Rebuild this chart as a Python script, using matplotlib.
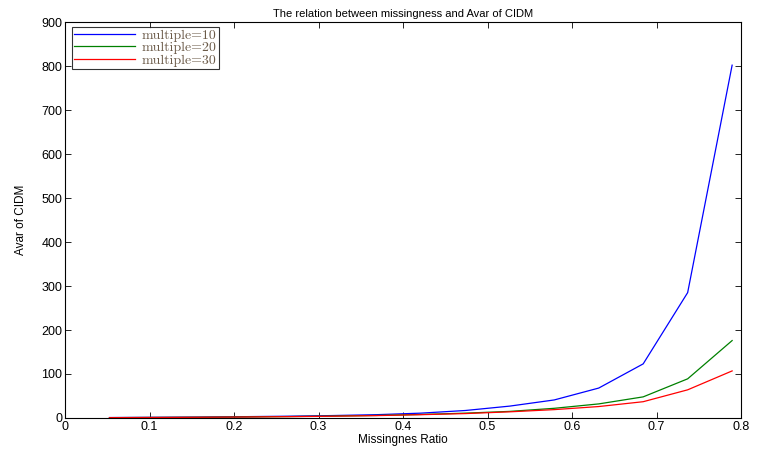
import matplotlib
matplotlib.use('Agg')
import matplotlib.pyplot as plt
import numpy as np

plt.rcParams['font.family'] = ['Liberation Sans', 'DejaVu Sans']

# missingness ratios (k/19, k = 1..15)
ratio = [1 / 19, 2 / 19, 3 / 19, 4 / 19, 5 / 19, 6 / 19, 7 / 19, 8 / 19,
         9 / 19, 10 / 19, 11 / 19, 12 / 19, 13 / 19, 14 / 19, 15 / 19]
avar_10 = [1.0, 1.5, 2.0, 3.0, 4.0, 5.5, 7.5, 11, 17, 27, 41, 68, 123, 285, 802]
avar_20 = [0.8, 1.2, 1.7, 2.4, 3.2, 4.3, 5.8, 8, 11, 15, 22, 32, 48, 89, 176]
avar_30 = [0.7, 1.1, 1.6, 2.2, 3.0, 4.0, 5.4, 7.5, 10, 14, 19, 26, 37, 64, 107]
labels = ['multiple=10', 'multiple=20', 'multiple=30']

fig = plt.figure(figsize=(7.57, 4.53), dpi=100)
ax = fig.add_axes([0.0859, 0.0773, 0.893, 0.874])

ax.plot(ratio, avar_10, color='#0000ff', lw=0.9, label=labels[0])
ax.plot(ratio, avar_20, color='#008000', lw=0.9, label=labels[1])
ax.plot(ratio, avar_30, color='#ff0000', lw=0.9, label=labels[2])

ax.set_xlim(0, 0.8)
ax.set_ylim(0, 900)
ax.set_xticks(np.arange(0, 0.81, 0.1))
ax.set_xticklabels(['0', '0.1', '0.2', '0.3', '0.4', '0.5', '0.6', '0.7', '0.8'])
ax.set_yticks(np.arange(0, 901, 100))
ax.tick_params(direction='in', top=True, right=True, length=4, width=0.6,
               labelsize=9, pad=2)
for s in ax.spines.values():
    s.set_linewidth(0.8)

ax.set_title('The relation between missingness and Avar of CIDM', fontsize=8, pad=4)
ax.set_xlabel('Missingnes Ratio', fontsize=8.5, labelpad=1)
ax.set_ylabel('Avar of CIDM', fontsize=8.5, labelpad=10)

leg = ax.legend(loc='upper left', bbox_to_anchor=(0.01, 0.988),
                prop={'family': 'cmr10', 'size': 10}, frameon=True,
                fancybox=False, edgecolor='black', borderpad=0.15,
                labelspacing=0.0, handlelength=4.4, handletextpad=0.5,
                borderaxespad=0.0)
leg.get_frame().set_linewidth(0.8)
for t in leg.get_texts():
    t.set_color('#6b5a48')

fig.savefig('out.png', dpi=100)
